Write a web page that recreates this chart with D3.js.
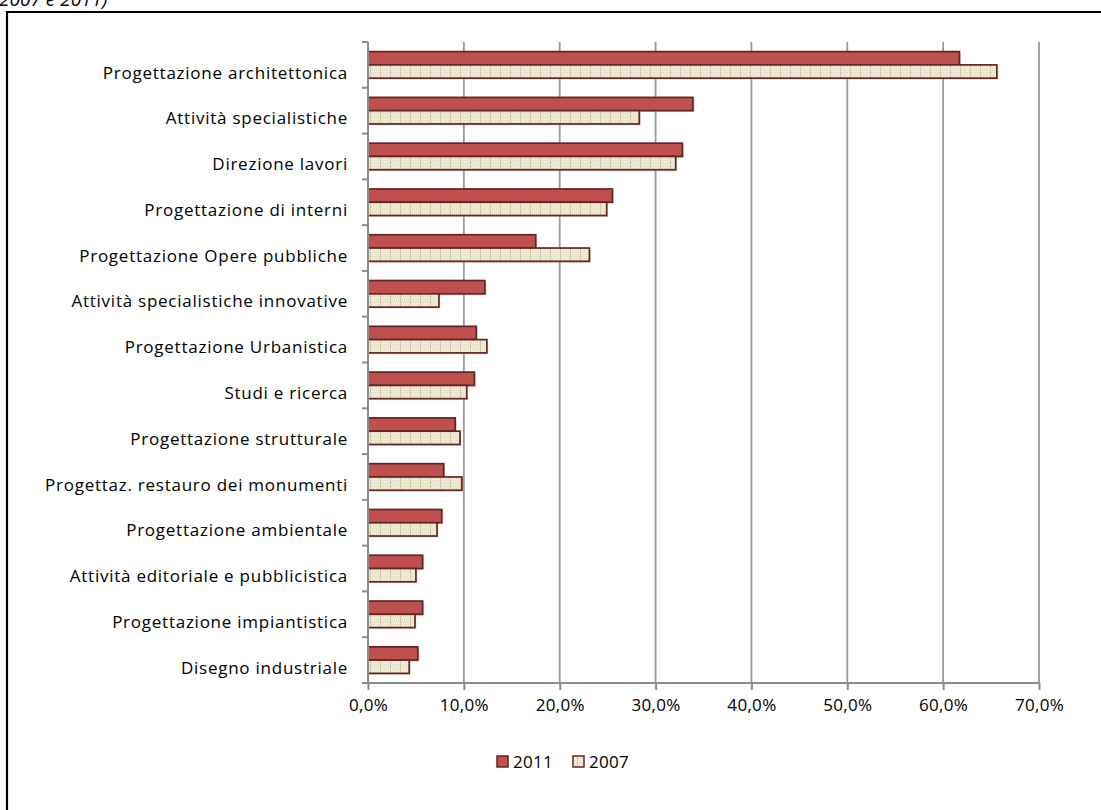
<!DOCTYPE html>
<html><head><meta charset="utf-8">
<script src="https://cdn.jsdelivr.net/npm/d3@7"></script>
<style>body{margin:0;background:#fff;}svg{display:block;font-family:"Open Sans",sans-serif;}</style>
</head><body>
<script>
const categories = ["Progettazione architettonica","Attività specialistiche","Direzione lavori","Progettazione di interni","Progettazione Opere pubbliche","Attività specialistiche innovative","Progettazione Urbanistica","Studi e ricerca","Progettazione strutturale","Progettaz. restauro dei monumenti","Progettazione ambientale","Attività editoriale e pubblicistica","Progettazione impiantistica","Disegno industriale"];
const series = ["2011","2007"];
const values2011 = [61.7,33.9,32.8,25.5,17.5,12.2,11.3,11.1,9.1,7.9,7.7,5.7,5.7,5.2];
const values2007 = [65.6,28.3,32.1,24.9,23.1,7.4,12.4,10.3,9.6,9.8,7.2,5.0,4.9,4.3];
const xTicks = [0,10,20,30,40,50,60,70];

const W=1101,H=810;
const FONT="Open Sans", FS=17, LS="0.3px", LSY="0.75px";
const svg=d3.select("body").append("svg").attr("width",W).attr("height",H);
const defs=svg.append("defs");
const pat=defs.append("pattern").attr("id","pat").attr("patternUnits","userSpaceOnUse").attr("width",10).attr("height",10);
pat.append("rect").attr("width",10).attr("height",10).attr("fill","#f0eddd");
for(let i=0;i<10;i+=2){for(let j=(i/2)%2;j<10;j+=2){pat.append("rect").attr("x",j).attr("y",i).attr("width",1).attr("height",1).attr("fill","#dcd7bf");}}
pat.append("rect").attr("x",0).attr("y",0).attr("width",1).attr("height",10).attr("fill","#cfc9a8");

// title fragment (cut off at the top, as in the source)
svg.append("text").attr("x",-1).attr("y",6).attr("font-style","italic").attr("font-size",19).attr("font-family",FONT).attr("fill","#000").text("2007 e 2011)");
// frame
svg.append("path").attr("d",`M7,${H+5} L7,12 L${W+5},12`).attr("fill","none").attr("stroke","#000").attr("stroke-width",2.2);

const x=d3.scaleLinear().domain([0,70]).range([368,1039]);
const y=d3.scaleBand().domain(categories).range([42,683]).paddingInner(0.42).paddingOuter(0.21);
const ys=d3.scaleBand().domain(series).range([0,y.bandwidth()]);

// gridlines
svg.append("g").selectAll("line").data(xTicks.slice(1)).join("line")
 .attr("x1",d=>x(d)).attr("x2",d=>x(d)).attr("y1",42).attr("y2",683)
 .attr("stroke","#9a9a9a").attr("stroke-width",1.8);

// bars
const data=categories.map((c,i)=>({c,v:[values2011[i],values2007[i]]}));
const g=svg.append("g");
data.forEach(d=>{
  series.forEach((s,j)=>{
    g.append("rect").attr("x",x(0)+1.5).attr("y",y(d.c)+ys(s)+1.5)
     .attr("width",x(d.v[j])-x(0)).attr("height",ys.bandwidth())
     .attr("fill","#d8b0b0").attr("opacity",0.45);
    g.append("rect").attr("x",x(0)).attr("y",y(d.c)+ys(s))
     .attr("width",x(d.v[j])-x(0)).attr("height",ys.bandwidth())
     .attr("fill",j===0?"#c0504d":"url(#pat)").attr("stroke","#632523").attr("stroke-width",1.7);
  });
});

// x axis
const xa=svg.append("g").attr("transform","translate(0,683)")
 .call(d3.axisBottom(x).tickValues(xTicks).tickSize(7).tickPadding(9).tickFormat(d=>d3.format(".1f")(d).replace(".",",")+"%"));
xa.select(".domain").attr("stroke","#8c8c8c").attr("stroke-width",2).attr("d","M362,0H1039");
xa.selectAll(".tick line").attr("stroke","#8c8c8c").attr("stroke-width",2);
xa.selectAll("text").attr("font-size",FS).attr("fill","#000").attr("font-family",FONT).attr("letter-spacing",LS);

// y axis
const ya=svg.append("g").attr("transform","translate(368,0)")
 .call(d3.axisLeft(y).tickSize(0).tickPadding(20));
ya.select(".domain").attr("stroke","#8c8c8c").attr("stroke-width",2).attr("d","M0,42V683");
ya.selectAll("text").attr("font-size",FS).attr("fill","#000").attr("font-family",FONT).attr("dy","0.8em").attr("letter-spacing",LSY);
const bnd=[...categories.map(c=>y(c)-y.step()*y.paddingInner()/2)];
svg.append("g").selectAll("line").data(bnd).join("line")
 .attr("x1",362).attr("x2",368).attr("y1",d=>d).attr("y2",d=>d)
 .attr("stroke","#8c8c8c").attr("stroke-width",2);

// legend
const lg=svg.append("g").attr("transform","translate(497,756)");
series.forEach((s,i)=>{
  const gx=i*76;
  lg.append("rect").attr("x",gx).attr("y",0).attr("width",11).attr("height",11)
   .attr("fill",i===0?"#c0504d":"url(#pat)").attr("stroke","#632523").attr("stroke-width",1.5);
  lg.append("text").attr("x",gx+16).attr("y",12).attr("font-size",FS).attr("font-family",FONT).attr("letter-spacing",LS).text(s);
});
</script>
</body></html>
